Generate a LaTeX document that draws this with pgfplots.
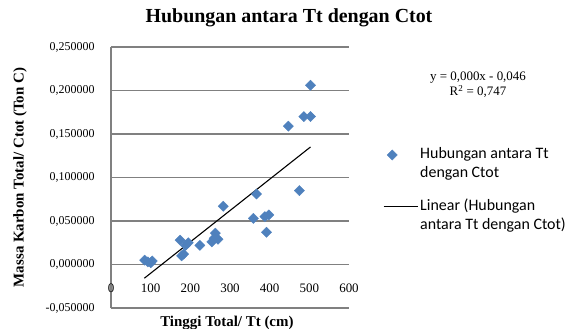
\documentclass[border=0pt]{standalone}
\usepackage{fontspec}
\setmainfont{Liberation Serif}
\newfontfamily\legfont{Carlito}
\usepackage{pgfplots}
\pgfplotsset{compat=1.18}
\definecolor{ptblue}{HTML}{4F81BD}
\definecolor{gridgray}{HTML}{808080}
\pgfplotstableread{
x y
85 0.005
93 0.003
100 0.002
104 0.004
174 0.028
178 0.010
183 0.012
188 0.022
195 0.025
224 0.022
254 0.026
260 0.030
263 0.036
270 0.029
283 0.067
359 0.053
367 0.081
388 0.055
392 0.037
398 0.057
447 0.159
475 0.085
486 0.170
503 0.170
503 0.206
}\scatterdata
\begin{document}
\begin{tikzpicture}
\path[use as bounding box] (0,0) rectangle (580bp,329bp);
\begin{axis}[
  at={(111bp,21bp)}, anchor=south west,
  scale only axis, width=238bp, height=261bp,
  xmin=0, xmax=600, ymin=-0.05, ymax=0.25,
  axis x line*=bottom, axis y line*=left,
  x axis line style={draw=none},
  y axis line style={gridgray, line width=1.8bp},
  xtick={0,100,200,300,400,500,600},
  ytick={-0.05,0,0.05,0.1,0.15,0.2,0.25},
  ymajorgrids=true,
  major grid style={draw=gridgray, line width=1.8bp},
  tick style={draw=none},
  /pgf/number format/assume math mode=true,
  yticklabel style={/pgf/number format/.cd, fixed, fixed zerofill, precision=6, use comma, /tikz/.cd, font=\fontsize{12}{14}\selectfont, xshift=-13bp},
  xticklabel style={font=\fontsize{13}{15}\selectfont, anchor=center, yshift=20bp},
  title={Hubungan antara Tt dengan Ctot},
  title style={at={(axis description cs:0.748,1.088)}, anchor=center, font=\bfseries\fontsize{20}{24}\selectfont},
  xlabel={Tinggi Total/ Tt (cm)},
  xlabel style={at={(axis description cs:0.487,-0.0575)}, anchor=center, font=\bfseries\fontsize{15}{18}\selectfont},
  ylabel={Massa Karbon Total/ Ctot (Ton C)},
  ylabel style={at={(axis description cs:-0.382,0.5)}, anchor=center, font=\bfseries\fontsize{15}{18}\selectfont},
  legend style={at={(axis description cs:1.13,0.632)}, anchor=north west, draw=none, fill=none,
    font=\legfont\fontsize{16}{19}\selectfont, cells={anchor=west, align=left}, row sep=16bp},
  legend image post style={yshift=8bp},
  clip=false,
]
\draw[gridgray, line width=1.8bp] (axis cs:0,0) -- (axis cs:600,0);
\draw[gridgray, line width=1.8bp] (axis cs:0,-0.05) -- (axis cs:600,-0.05);
\addplot[only marks, mark=square*, mark size=3.6bp, mark options={rotate=45, fill=ptblue, draw=ptblue}] table[x=x, y=y] {\scatterdata};
\addlegendentry{Hubungan antara Tt\\dengan Ctot}
\addplot[black, line width=1.1bp, no marks, legend image code/.code={\draw[black, line width=1.1bp] (0bp,0bp) -- (34bp,0bp);}] coordinates {(84,-0.0158) (503,0.1351)};
\addlegendentry{Linear (Hubungan\\antara Tt dengan Ctot)}
\node[font=\fontsize{13}{15}\selectfont, align=center] at (axis description cs:1.542,0.855) {y = 0,000x - 0,046\\R\textsuperscript{2} = 0,747};
\end{axis}
\end{tikzpicture}
\end{document}
